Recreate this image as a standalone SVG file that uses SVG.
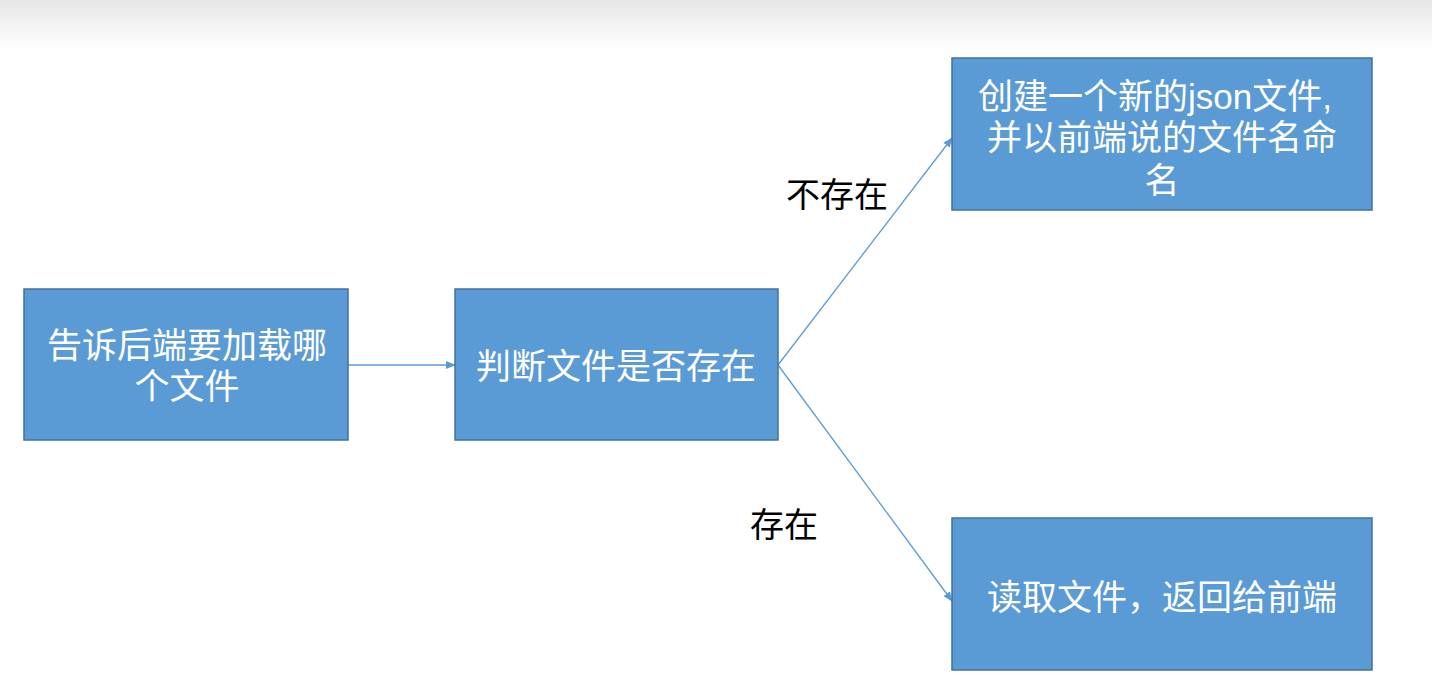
<svg xmlns="http://www.w3.org/2000/svg" width="1432" height="697" viewBox="0 0 1432 697">
<defs>
<linearGradient id="top" x1="0" y1="0" x2="0" y2="1"><stop offset="0" stop-color="#e6e6e6"/><stop offset="1" stop-color="#ffffff"/></linearGradient>
<marker id="ah" markerWidth="10" markerHeight="8" refX="9" refY="4" orient="auto" markerUnits="userSpaceOnUse"><path d="M0,0 L10,4 L0,8 z" fill="#5B9BD5"/></marker>
<style>
.box{fill:#5B9BD5;stroke:#41719C;stroke-width:1.5}
.t{fill:#fff;font-family:"Liberation Sans","Noto Sans CJK SC",sans-serif;font-size:35px;text-anchor:middle}
.l{fill:#000;font-family:"Liberation Sans","Noto Sans CJK SC",sans-serif;font-size:34px}
.c{stroke:#5B9BD5;stroke-width:1.3;fill:none;marker-end:url(#ah)}
</style>
</defs>
<rect width="1432" height="697" fill="#fff"/>
<rect width="1432" height="50" fill="url(#top)"/>
<g id="connectors">
<line class="c" x1="348" y1="365" x2="455" y2="365"/>
<line class="c" x1="778" y1="365" x2="952" y2="138"/>
<line class="c" x1="778" y1="365" x2="952" y2="601"/>
<text class="l" x="786" y="207">不存在</text>
<text class="l" x="750" y="537">存在</text>
</g>
<g id="n1"><rect class="box" x="24" y="289" width="324" height="151"/>
<text class="t" x="187" y="358">告诉后端要加载哪</text><text class="t" x="187" y="399">个文件</text></g>
<g id="n2"><rect class="box" x="455" y="289" width="323" height="151"/>
<text class="t" x="616" y="379">判断文件是否存在</text></g>
<g id="n3"><rect class="box" x="952" y="58" width="420" height="152"/>
<text class="t" x="1155" y="109">创建一个新的json文件,</text><text class="t" x="1162" y="150">并以前端说的文件名命</text><text class="t" x="1162" y="193">名</text></g>
<g id="n4"><rect class="box" x="952" y="518" width="420" height="152"/>
<text class="t" x="1162" y="610">读取文件，返回给前端</text></g>
</svg>
